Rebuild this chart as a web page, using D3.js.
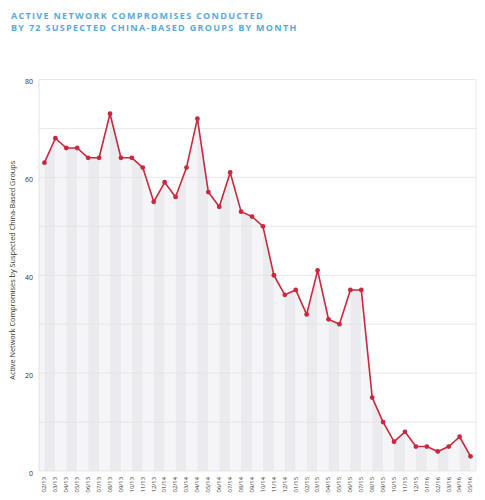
<!DOCTYPE html>
<html>
<head>
<meta charset="utf-8">
<script src="https://cdn.jsdelivr.net/npm/d3@7"></script>
<style>
  html, body { margin: 0; padding: 0; background: #fff; }
  svg { display: block; }
</style>
</head>
<body>
<svg id="chart" width="485" height="500"></svg>
<script>
const months = ["02/13","03/13","04/13","05/13","06/13","07/13","08/13","09/13","10/13","11/13","12/13",
  "01/14","02/14","03/14","04/14","05/14","06/14","07/14","08/14","09/14","10/14","11/14","12/14",
  "01/15","02/15","03/15","04/15","05/15","06/15","07/15","08/15","09/15","10/15","11/15","12/15",
  "01/16","02/16","03/16","04/16","05/16"];
const compromises = [63,68,66,66,64,64,73,64,64,62,55,59,56,62,72,57,54,61,53,52,50,40,36,37,32,41,31,30,37,37,15,10,6,8,5,5,4,5,7,3];
const yLabelTicks = [0,20,40,60,80];
const yGridTicks = [0,10,20,30,40,50,60,70,80];
const titleLines = ["ACTIVE NETWORK COMPROMISES CONDUCTED","BY 72 SUSPECTED CHINA-BASED GROUPS BY MONTH"];
const yTitle = "Active Network Compromises by Suspected China-Based Groups";

const data = months.map((m, i) => ({ m, v: compromises[i] }));
const svg = d3.select("#chart");
const L = 39, R = 476, T = 79.5, B = 471;
const font = "'Open Sans', sans-serif";

const x = d3.scaleBand().domain(months).range([L, R]).paddingInner(0).paddingOuter(0);
const cx = m => x(m) + x.bandwidth() / 2;
const y = d3.scaleLinear().domain([0, 80]).range([B, T]);

// title
svg.append("g").selectAll("text").data(titleLines).join("text")
  .attr("x", 11).attr("y", (d, i) => 18.6 + i * 12.4)
  .attr("font-family", font).attr("font-weight", 700).attr("font-size", 9)
  .attr("letter-spacing", 1.3).attr("fill", "#58aadb").text(d => d);

// area clip
svg.append("clipPath").attr("id", "areaClip").append("path").attr("d", () => {
  const first = data[0], last = data[data.length - 1];
  const ext = [{ px: L, v: first.v }, ...data.map(d => ({ px: cx(d.m), v: d.v })), { px: R, v: last.v }];
  return d3.area().x(d => d.px).y0(B).y1(d => y(d.v))(ext);
});

// stripes (between consecutive points)
const stripeEdges = [L, ...months.map(cx), R];
const stripes = d3.pairs(stripeEdges).map((p, i) => ({ x0: p[0], x1: p[1], i }));
svg.append("g").attr("clip-path", "url(#areaClip)").selectAll("rect").data(stripes).join("rect")
  .attr("x", d => d.x0).attr("width", d => d.x1 - d.x0)
  .attr("y", T).attr("height", B - T)
  .attr("fill", d => d.i % 2 === 0 ? "#f5f5f7" : "#ebebef");

// gridlines
svg.append("g").selectAll("line").data(yGridTicks).join("line")
  .attr("x1", L).attr("x2", R).attr("y1", d => y(d)).attr("y2", d => y(d))
  .attr("stroke", "#e2e2e4").attr("stroke-width", 0.8);
// side borders
svg.append("line").attr("x1", L).attr("x2", L).attr("y1", T).attr("y2", B).attr("stroke", "#dcdcde").attr("stroke-width", 0.8);
svg.append("line").attr("x1", R).attr("x2", R).attr("y1", T).attr("y2", B).attr("stroke", "#e2e2e4").attr("stroke-width", 0.8);

// y axis labels
const yAxis = d3.axisLeft(y).tickValues(yLabelTicks).tickSize(0).tickPadding(6);
const gy = svg.append("g").attr("transform", `translate(${L},2)`).call(yAxis);
gy.select(".domain").remove();
gy.selectAll("text").attr("font-family", font).attr("font-size", 7).attr("fill", "#333");

// y title
svg.append("text").attr("transform", `translate(15,${(T + B) / 2 - 5}) rotate(-90)`)
  .attr("text-anchor", "middle").attr("font-family", font).attr("font-size", 7.3)
  .attr("fill", "#333").text(yTitle);

// x axis labels
const xAxis = d3.axisBottom(x).tickSize(0).tickPadding(0);
const gx = svg.append("g").attr("transform", `translate(0,${B})`).call(xAxis);
gx.select(".domain").remove();
gx.selectAll("text").attr("font-family", font).attr("font-size", 5.8).attr("fill", "#333")
  .attr("text-anchor", "end").attr("dy", "0.32em").attr("dx", 0).attr("y", 0)
  .attr("transform", "translate(0,6) rotate(-90)");

// line
const line = d3.line().x(d => cx(d.m)).y(d => y(d.v));
svg.append("path").datum(data).attr("d", line).attr("fill", "none")
  .attr("stroke", "#c9283d").attr("stroke-width", 1.6).attr("stroke-linejoin", "round");
svg.append("g").selectAll("circle").data(data).join("circle")
  .attr("cx", d => cx(d.m)).attr("cy", d => y(d.v)).attr("r", 2.4).attr("fill", "#c9283d");
</script>
</body>
</html>
